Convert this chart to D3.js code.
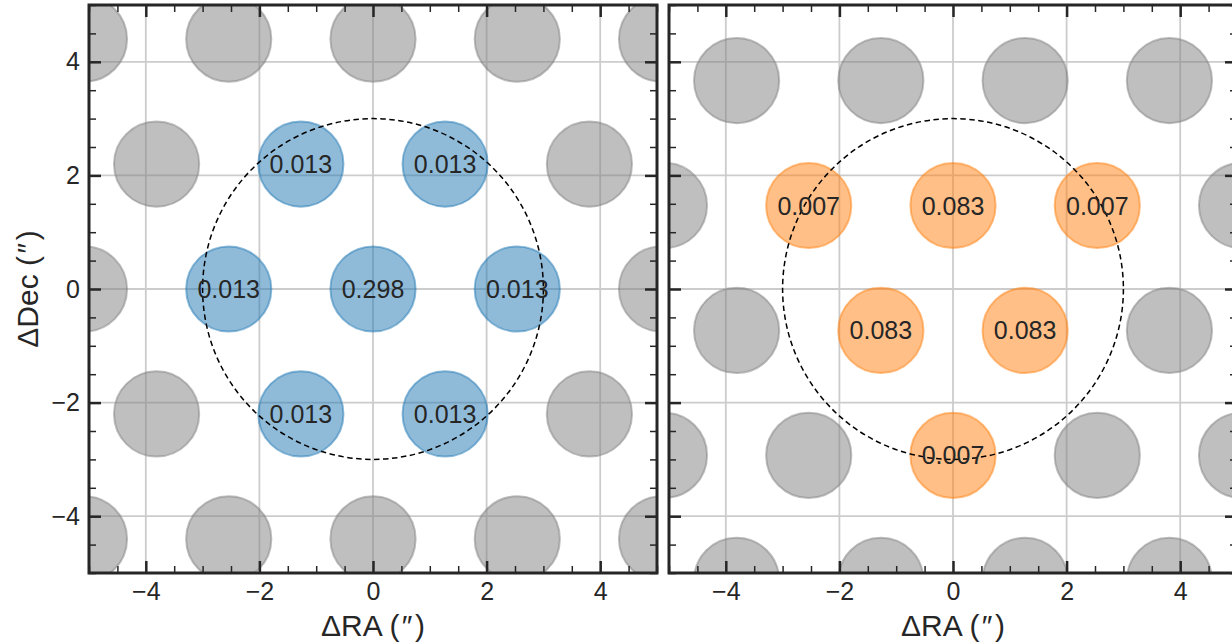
<!DOCTYPE html>
<html>
<head>
<meta charset="utf-8">
<script src="https://cdn.jsdelivr.net/npm/d3@7"></script>
<style>
  html, body { margin: 0; padding: 0; background: #fff; }
  svg text { font-family: "Liberation Sans", Arial, sans-serif; fill: #262626; }
</style>
</head>
<body>
<div id="chart"></div>
<script>
// fiber centres (arcsec) and fractions
const leftGrayX = [-5.08, -2.54, 0, 2.54, 5.08, -3.81, 3.81, -5.08, 5.08, -3.81, 3.81, -5.08, -2.54, 0, 2.54, 5.08];
const leftGrayY = [4.4, 4.4, 4.4, 4.4, 4.4, 2.2, 2.2, 0, 0, -2.2, -2.2, -4.4, -4.4, -4.4, -4.4, -4.4];
const leftHitX = [0, -2.54, 2.54, -1.27, 1.27, -1.27, 1.27];
const leftHitY = [0, 0, 0, 2.2, 2.2, -2.2, -2.2];
const leftHitValue = ['0.298', '0.013', '0.013', '0.013', '0.013', '0.013', '0.013'];

const rightGrayX = [-3.81, -1.27, 1.27, 3.81, -5.08, 5.08, -3.81, 3.81, -5.08, -2.54, 2.54, 5.08, -3.81, -1.27, 1.27, 3.81];
const rightGrayY = [3.67, 3.67, 3.67, 3.67, 1.47, 1.47, -0.73, -0.73, -2.93, -2.93, -2.93, -2.93, -5.13, -5.13, -5.13, -5.13];
const rightHitX = [-2.54, 0, 2.54, -1.27, 1.27, 0];
const rightHitY = [1.47, 1.47, 1.47, -0.73, -0.73, -2.93];
const rightHitValue = ['0.007', '0.083', '0.007', '0.083', '0.083', '0.007'];

const fiberRadius = 0.75;
const apertureRadius = 3;
const majorTicks = [-4, -2, 0, 2, 4];
const minorTicks = d3.range(-5, 5.01, 0.5);

const WIDTH = 1232;
const HEIGHT = 644;
const SIZE = 568;
const TOP = 5;

const svg = d3.select('#chart')
  .append('svg')
  .attr('width', WIDTH)
  .attr('height', HEIGHT);

const x = d3.scaleLinear().domain([-5, 5]).range([0, SIZE]);
const y = d3.scaleLinear().domain([-5, 5]).range([SIZE, 0]);

function zip(xs, ys, vs) {
  return xs.map((d, i) => ({ x: d, y: ys[i], v: vs ? vs[i] : null }));
}

function drawPanel(left, id, gray, hits, color, showYLabels) {
  const g = svg.append('g').attr('transform', `translate(${left},${TOP})`);

  g.append('clipPath').attr('id', 'clip-' + id)
    .append('rect').attr('width', SIZE).attr('height', SIZE);

  const body = g.append('g').attr('clip-path', `url(#clip-${id})`);

  // grid
  body.append('g').selectAll('line.gx').data(majorTicks).enter().append('line')
    .attr('x1', (d) => x(d)).attr('x2', (d) => x(d))
    .attr('y1', 0).attr('y2', SIZE)
    .attr('stroke', '#cccccc').attr('stroke-width', 1.8);
  body.append('g').selectAll('line.gy').data(majorTicks).enter().append('line')
    .attr('y1', (d) => y(d)).attr('y2', (d) => y(d))
    .attr('x1', 0).attr('x2', SIZE)
    .attr('stroke', '#cccccc').attr('stroke-width', 1.8);

  const r = x(fiberRadius) - x(0);

  body.append('g').selectAll('circle').data(gray).enter().append('circle')
    .attr('cx', (d) => x(d.x)).attr('cy', (d) => y(d.y)).attr('r', r)
    .attr('fill', '#808080').attr('fill-opacity', 0.5)
    .attr('stroke', '#808080').attr('stroke-opacity', 0.5).attr('stroke-width', 2);

  body.append('g').selectAll('circle').data(hits).enter().append('circle')
    .attr('cx', (d) => x(d.x)).attr('cy', (d) => y(d.y)).attr('r', r)
    .attr('fill', color).attr('fill-opacity', 0.5)
    .attr('stroke', color).attr('stroke-opacity', 0.5).attr('stroke-width', 2);

  body.append('circle')
    .attr('cx', x(0)).attr('cy', y(0)).attr('r', x(apertureRadius) - x(0))
    .attr('fill', 'none').attr('stroke', '#000').attr('stroke-width', 1.5)
    .attr('stroke-dasharray', '5.5,3.5');

  body.append('g').selectAll('text').data(hits).enter().append('text')
    .attr('x', (d) => x(d.x)).attr('y', (d) => y(d.y))
    .attr('text-anchor', 'middle').attr('dy', '0.36em')
    .attr('font-size', 25)
    .text((d) => d.v);

  // ticks on all sides, pointing in
  const fmt = (d) => d3.format('d')(d);
  const axes = [
    { a: d3.axisBottom(x), t: `translate(0,${SIZE})`, labels: true },
    { a: d3.axisTop(x), t: 'translate(0,0)', labels: false },
    { a: d3.axisLeft(y), t: 'translate(0,0)', labels: showYLabels },
    { a: d3.axisRight(y), t: `translate(${SIZE},0)`, labels: false },
  ];
  axes.forEach((ax) => {
    const major = g.append('g').attr('transform', ax.t)
      .call(ax.a.tickValues(majorTicks).tickSizeInner(-12).tickSizeOuter(0).tickPadding(9)
        .tickFormat(ax.labels ? fmt : () => ''));
    major.select('.domain').remove();
    major.selectAll('line').attr('stroke', '#262626').attr('stroke-width', 2.5);
    major.selectAll('text').attr('font-size', 25).attr('fill', '#262626')
      .attr('font-family', '"Liberation Sans", Arial, sans-serif');
  });
  const minorAxes = [
    { a: d3.axisBottom(x.copy()), t: `translate(0,${SIZE})` },
    { a: d3.axisTop(x.copy()), t: 'translate(0,0)' },
    { a: d3.axisLeft(y.copy()), t: 'translate(0,0)' },
    { a: d3.axisRight(y.copy()), t: `translate(${SIZE},0)` },
  ];
  minorAxes.forEach((ax) => {
    const minor = g.append('g').attr('transform', ax.t)
      .call(ax.a.tickValues(minorTicks.filter((d) => !majorTicks.includes(d)))
        .tickSizeInner(-7).tickSizeOuter(0).tickFormat(() => ''));
    minor.select('.domain').remove();
    minor.selectAll('line').attr('stroke', '#262626').attr('stroke-width', 1.5);
  });

  g.append('rect')
    .attr('width', SIZE).attr('height', SIZE)
    .attr('fill', 'none').attr('stroke', '#262626').attr('stroke-width', 3);

  g.append('text')
    .attr('x', SIZE / 2).attr('y', SIZE + 63)
    .attr('text-anchor', 'middle').attr('font-size', 30)
    .text('ΔRA (\u200a″\u200a)');

  if (showYLabels) {
    g.append('text')
      .attr('transform', `translate(${-51},${SIZE / 2}) rotate(-90)`)
      .attr('text-anchor', 'middle').attr('font-size', 30)
      .text('ΔDec (\u200a″\u200a)');
  }
}

drawPanel(89, 'left', zip(leftGrayX, leftGrayY), zip(leftHitX, leftHitY, leftHitValue), '#1f77b4', true);
drawPanel(669, 'right', zip(rightGrayX, rightGrayY), zip(rightHitX, rightHitY, rightHitValue), '#ff7f0e', false);
</script>
</body>
</html>
